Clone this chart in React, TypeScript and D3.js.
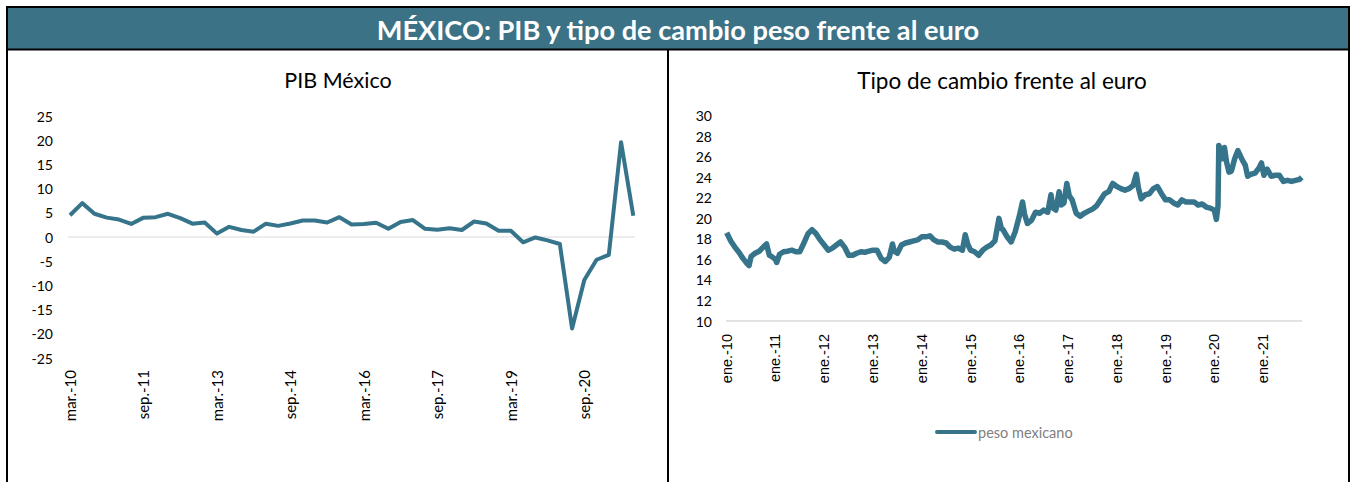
import React from 'react';
import * as d3 from 'd3';

// ---------- DATA ----------
const pibValues = [
  4.5, 7.0, 4.8, 4.0, 3.6, 2.7, 4.0, 4.1, 4.8, 3.9, 2.75, 3.0, 0.7, 2.1, 1.45, 1.1,
  2.75, 2.3, 2.8, 3.4, 3.4, 3.0, 4.1, 2.6, 2.7, 2.95, 1.7, 3.1, 3.5, 1.7, 1.5, 1.8,
  1.45, 3.2, 2.8, 1.3, 1.3, -1.1, -0.1, -0.7, -1.45, -18.9, -8.9, -4.7, -3.7, 19.6, 4.4,
];
const pibTickLabels = ['mar.-10', 'sep.-11', 'mar.-13', 'sep.-14', 'mar.-16', 'sep.-17', 'mar.-19', 'sep.-20'];
const pibTickStep = 6;
const pibYTicks = [25, 20, 15, 10, 5, 0, -5, -10, -15, -20, -25];

// months since ene.-2010
const fxMonths = [
  0, 1, 2, 3, 4, 5, 5.5, 6, 7, 8, 9, 9.8, 10.5, 11, 12, 12.3, 13, 14, 15, 16, 17, 18, 19, 20, 21, 22, 23,
  24, 25, 26, 27, 28, 29, 30, 31, 32, 33, 34, 35, 36, 37, 38, 39, 40, 40.8, 41.2, 42, 43, 44, 45, 46, 47,
  48, 49, 50, 51, 52, 53, 54, 55, 56, 57, 58, 58.7, 59.3, 60, 61, 62, 63, 64, 65, 66, 67, 67.6, 68, 69, 70, 71,
  72, 72.8, 73.3, 74, 75, 76, 77, 78, 79, 79.8, 80.3, 81, 81.8, 82.3, 83, 83.7, 84.3, 85, 86, 87, 88, 89, 90, 91,
  92, 93, 94, 95, 96, 97, 98, 99, 100, 100.8, 101.3, 102, 103, 104, 105, 106, 107, 108, 109, 110, 111,
  112, 113, 114, 115, 116, 117, 118, 119, 120, 120.5, 120.9, 121.1, 121.6, 122, 122.5, 123, 123.6, 124.2,
  125, 125.8, 126.5, 127, 127.6, 128.2, 129, 130, 131, 131.6, 132.2, 133, 134, 135, 136, 137, 138, 139, 140, 141, 141.5,
];
const fxValues = [
  18.6, 17.8, 17.2, 16.7, 16.1, 15.6, 15.4, 16.3, 16.6, 16.8, 17.2, 17.5, 16.4, 16.3, 16.0, 15.7, 16.5, 16.75, 16.8, 16.9, 16.75, 16.75, 17.6, 18.5, 18.9, 18.5, 17.9,
  17.4, 16.9, 17.1, 17.4, 17.7, 17.2, 16.4, 16.4, 16.6, 16.75, 16.7, 16.8, 16.9, 16.9, 16.1, 15.8, 16.2, 17.5, 16.8, 16.6, 17.4, 17.6, 17.7, 17.8, 17.9,
  18.2, 18.2, 18.3, 17.9, 17.7, 17.7, 17.6, 17.2, 17.0, 17.1, 16.9, 18.4, 17.5, 16.9, 16.75, 16.4, 16.9, 17.2, 17.4, 17.8, 20.0, 19.0, 18.9, 18.2, 17.7, 18.7,
  20.2, 21.6, 20.4, 19.5, 19.8, 20.6, 20.5, 20.8, 20.6, 22.3, 21.0, 20.8, 22.6, 21.3, 21.5, 23.4, 22.2, 21.8, 20.5, 20.2, 20.5, 20.7, 20.9, 21.2,
  21.8, 22.4, 22.6, 23.4, 23.1, 22.9, 22.75, 22.9, 23.2, 24.3, 23.0, 21.9, 22.3, 22.4, 22.9, 23.1, 22.4, 21.8, 21.8, 21.5, 21.3,
  21.8, 21.6, 21.6, 21.6, 21.3, 21.4, 21.1, 21.0, 20.8, 19.9, 21.2, 27.1, 26.5, 25.8, 26.9, 25.5, 24.5, 24.6,
  25.8, 26.6, 26.0, 25.6, 25.2, 24.1, 24.3, 24.4, 24.9, 25.4, 24.2, 24.8, 24.1, 24.2, 24.2, 23.6, 23.7, 23.6, 23.7, 23.8, 24.0,
];
const fxTickLabels = ['ene.-10', 'ene.-11', 'ene.-12', 'ene.-13', 'ene.-14', 'ene.-15', 'ene.-16', 'ene.-17', 'ene.-18', 'ene.-19', 'ene.-20', 'ene.-21'];
const fxYTicks = [30, 28, 26, 24, 22, 20, 18, 16, 14, 12, 10];

const mainTitle = 'MÉXICO: PIB y tipo de cambio peso frente al euro';
const leftTitle = 'PIB México';
const rightTitle = 'Tipo de cambio frente al euro';
const legendLabel = 'peso mexicano';

// ---------- STYLE ----------
const HEADER = '#3b7286';
const LINE = '#35748a';
const GRID = '#d9d9d9';
const FONT = 'Lato, "Open Sans", sans-serif';

export default function App() {
  const W = 1357;
  const H = 482;

  // left chart scales
  const xL = d3.scaleLinear().domain([0, pibValues.length - 1]).range([70, 633.3]);
  const yL = d3.scaleLinear().domain([-25, 25]).range([358, 116]);
  const lineL = d3
    .line<number>()
    .x((_, i) => xL(i))
    .y((d) => yL(d));

  // right chart scales
  const xR = d3.scaleLinear().domain([0, 141.5]).range([726.7, 1301.7]);
  const yR = d3.scaleLinear().domain([10, 30]).range([321, 115.7]);
  const fxPoints = fxMonths.map((m, i) => [m, fxValues[i]] as [number, number]);
  const lineR = d3
    .line<[number, number]>()
    .x((d) => xR(d[0]))
    .y((d) => yR(d[1]));

  return (
    <svg
      width={W}
      height={H}
      style={{ position: 'absolute', left: 0, top: 0, display: 'block', background: '#fff' }}
    >
      {/* header */}
      <rect x={7} y={7} width={1342} height={42} fill={HEADER} />
      <text
        x={678}
        y={29}
        fill="#fff"
        fontFamily={FONT}
        fontWeight="bold"
        fontSize={27.2}
        textAnchor="middle"
        dominantBaseline="central"
      >
        {mainTitle}
      </text>
      {/* borders */}
      <line x1={7} x2={1349} y1={7} y2={7} stroke="#000" strokeWidth={2} />
      <line x1={7} x2={1349} y1={49.5} y2={49.5} stroke="#000" strokeWidth={2} />
      <line x1={7} x2={7} y1={6} y2={H} stroke="#000" strokeWidth={2} />
      <line x1={668} x2={668} y1={49} y2={H} stroke="#000" strokeWidth={2} />
      <line x1={1349} x2={1349} y1={6} y2={H} stroke="#000" strokeWidth={2} />

      {/* ---------- left chart ---------- */}
      <text x={338} y={80} fontFamily={FONT} fontSize={21.5} textAnchor="middle" dominantBaseline="central" fill="#000">
        {leftTitle}
      </text>
      {pibYTicks.map((t) => (
        <text
          key={t}
          x={53}
          y={yL(t)}
          fontFamily={FONT}
          fontSize={14}
          textAnchor="end"
          dominantBaseline="central"
          fill="#000"
        >
          {t}
        </text>
      ))}
      <line x1={68} x2={635} y1={yL(0)} y2={yL(0)} stroke={GRID} strokeWidth={1.2} />
      <path d={lineL(pibValues) || ''} fill="none" stroke={LINE} strokeWidth={4} strokeLinejoin="round" />
      {pibTickLabels.map((lab, i) => {
        const x = xL(i * pibTickStep);
        return (
          <text
            key={lab}
            transform={`translate(${x},370) rotate(-90)`}
            fontFamily={FONT}
            fontSize={15}
            textAnchor="end"
            dominantBaseline="central"
            fill="#000"
          >
            {lab}
          </text>
        );
      })}

      {/* ---------- right chart ---------- */}
      <text x={1002} y={80} fontFamily={FONT} fontSize={22.5} textAnchor="middle" dominantBaseline="central" fill="#000">
        {rightTitle}
      </text>
      {fxYTicks.map((t) => (
        <text
          key={t}
          x={712}
          y={yR(t)}
          fontFamily={FONT}
          fontSize={14}
          textAnchor="end"
          dominantBaseline="central"
          fill="#000"
        >
          {t}
        </text>
      ))}
      <line x1={726} x2={1302} y1={yR(10)} y2={yR(10)} stroke={GRID} strokeWidth={1.5} />
      <path d={lineR(fxPoints) || ''} fill="none" stroke={LINE} strokeWidth={5.5} strokeLinejoin="round" />
      {fxTickLabels.map((lab, i) => {
        const x = xR(i * 12);
        return (
          <text
            key={lab}
            transform={`translate(${x},334) rotate(-90)`}
            fontFamily='"Liberation Sans", Arial, sans-serif'
            fontSize={14.5}
            textAnchor="end"
            dominantBaseline="central"
            fill="#000"
          >
            {lab}
          </text>
        );
      })}
      {/* legend */}
      <line x1={937} x2={975} y1={432} y2={432} stroke={LINE} strokeWidth={4} strokeLinecap="round" />
      <text x={978} y={432} fontFamily={FONT} fontSize={14.5} dominantBaseline="central" fill="#808080">
        {legendLabel}
      </text>
    </svg>
  );
}
